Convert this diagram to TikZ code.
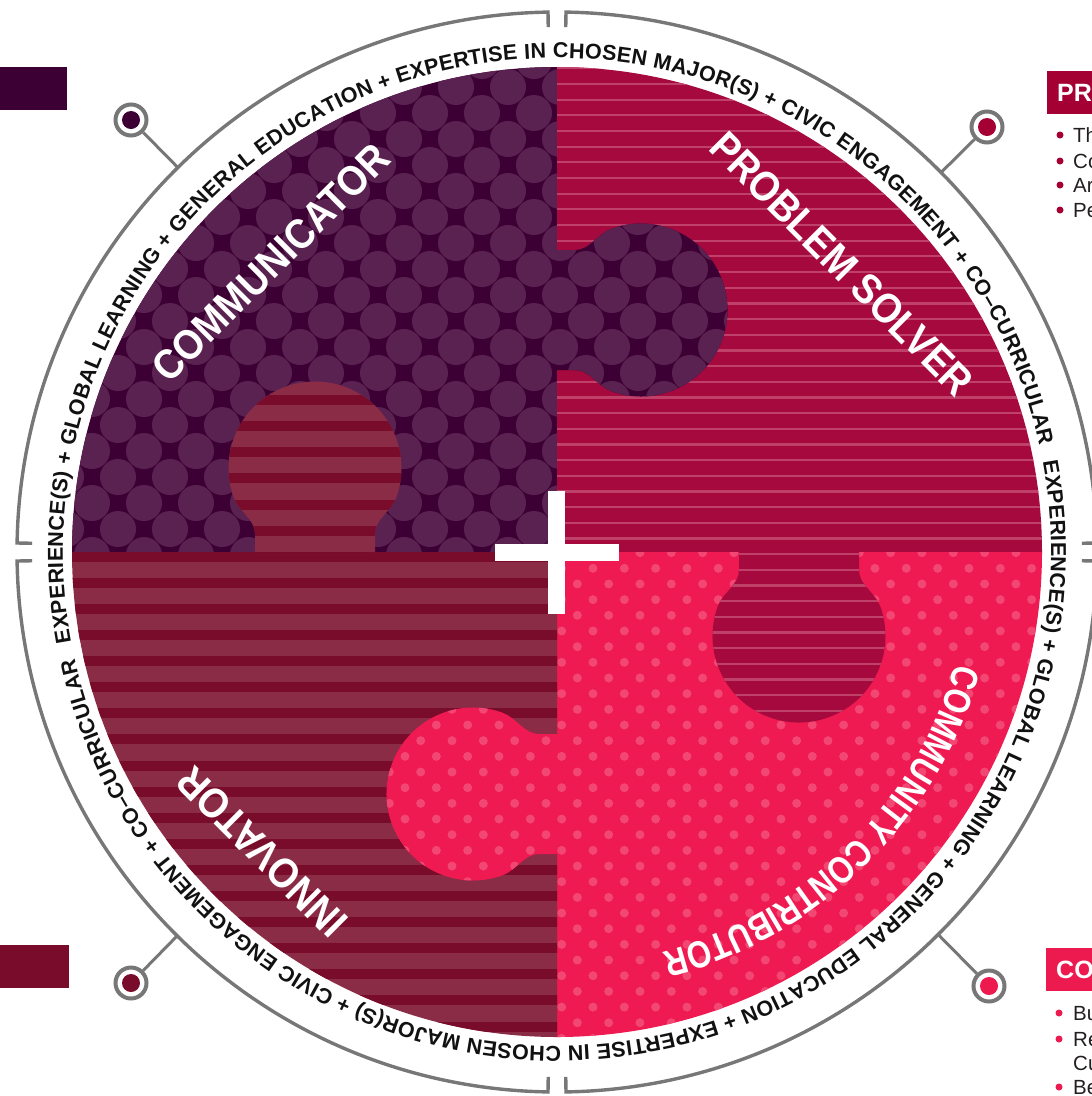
\documentclass[tikz,border=0pt]{standalone}
\usepackage{fontspec}
\setmainfont{Liberation Sans}
\newfontfamily\narrowfam[FakeStretch=0.9]{Liberation Sans}
\newfontfamily\narrowerfam[FakeStretch=0.82]{Liberation Sans}
\usetikzlibrary{decorations.text}
\definecolor{cTLbg}{HTML}{3D0034}
\definecolor{cTLfg}{HTML}{5A2251}
\definecolor{cTRbg}{HTML}{A6093D}
\definecolor{cTRfg}{HTML}{BF4068}
\definecolor{cBLbg}{HTML}{8B2C47}
\definecolor{cBLfg}{HTML}{780C2A}
\definecolor{cBRbg}{HTML}{EE1A51}
\definecolor{cBRfg}{HTML}{F24772}
\definecolor{cPRO}{HTML}{A50034}
\definecolor{cCO}{HTML}{ED1A50}
\definecolor{ringgray}{HTML}{777777}
\definecolor{ringtext}{HTML}{111111}
\definecolor{bodytext}{HTML}{231F20}
\newcommand\ringfont{\fontsize{21.5}{23}\selectfont\bfseries}
\newcommand\labelfont{\narrowfam\fontsize{42}{44}\selectfont\bfseries}
\newcommand\arcfont{\narrowerfam\fontsize{38}{40}\selectfont\bfseries}
\newcommand\tabshape{(182,-2) -- (182,18) .. controls (182,33) and (165.85,40.32) .. (160.72,54.42) arc[start angle=200, end angle=-20, radius=86.5] .. controls (318.15,40.32) and (302,33) .. (302,18) -- (302,-2) -- cycle}
\newcommand\patTL{%
  \fill[cTLbg] (40,-40) rectangle (760,-580);
  \foreach \j in {-17,...,4}{%
    \pgfmathtruncatemacro\rowpar{mod(\j+100,2)}%
    \foreach \k in {-9,...,5}{%
      \fill[cTLfg] ({482+26*\rowpar+52*\k},{-477-26*\j}) circle[radius=18];}}}
\newcommand\patTR{%
  \fill[cTRbg] (520,-40) rectangle (1060,-740);
  \foreach \k in {-26,...,17}{%
    \fill[cTRfg] (520,{-459-15.67*\k}) rectangle (1060,{-461.2-15.67*\k});}}
\newcommand\patBL{%
  \fill[cBLbg] (40,-360) rectangle (580,-1060);
  \foreach \k in {-7,...,19}{%
    \fill[cBLfg] (40,{-551.7-26.1*\k}) rectangle (580,{-561.7-26.1*\k});}}
\newcommand\patBR{%
  \fill[cBRbg] (360,-530) rectangle (1060,-1060);
  \foreach \j in {-2,...,31}{%
    \pgfmathtruncatemacro\rowpar{mod(\j+100,2)}%
    \foreach \k in {-11,...,11}{%
      \fill[cBRfg] ({718.3+15.67*\rowpar+31.33*\k},{-568.3-15.67*\j}) circle[radius=4.5];}}}
\begin{document}
\begin{tikzpicture}[x=1pt,y=1pt,
  ringline/.style={draw=ringgray, line width=3.4pt},
  pinring/.style={circle, draw=ringgray, line width=4pt, fill=white, minimum size=31pt, inner sep=0pt},
  pindot/.style={circle, minimum size=18pt, inner sep=0pt},
  sidebox/.style={rectangle, minimum height=43pt, inner sep=0pt, anchor=north west},
  bigword/.style={text=white, font=\labelfont, inner sep=0pt},
  bullettext/.style={anchor=base west, font=\fontsize{20.5}{22}\selectfont, text=bodytext, inner sep=0pt},
  bulletdot/.style={circle, minimum size=7pt, inner sep=0pt},
  headtext/.style={anchor=west, text=white, font=\fontsize{25}{27}\selectfont\bfseries, inner sep=0pt}]
\useasboundingbox (0,0) rectangle (1092,-1096);
\coordinate (C) at (557,-552);
% quarters
\begin{scope}\clip (557,-552) -- (72,-552) arc[start angle=180,end angle=90,radius=485] -- cycle; \patTL \end{scope}
\begin{scope}\clip (557,-552) -- (557,-67) arc[start angle=90,end angle=0,radius=485] -- cycle; \patTR \end{scope}
\begin{scope}\clip (557,-552) -- (1042,-552) arc[start angle=0,end angle=-90,radius=485] -- cycle; \patBR \end{scope}
\begin{scope}\clip (557,-552) -- (557,-1037) arc[start angle=270,end angle=180,radius=485] -- cycle; \patBL \end{scope}
% tabs
\begin{scope}\clip[cm={0,1,1,0,(557,-552)}] \tabshape; \patTL \end{scope}
\begin{scope}\clip[cm={1,0,0,-1,(557,-552)}] \tabshape; \patTR \end{scope}
\begin{scope}\clip[cm={0,-1,-1,0,(557,-552)}] \tabshape; \patBR \end{scope}
\begin{scope}\clip[cm={-1,0,0,1,(557,-552)}] \tabshape; \patBL \end{scope}
% plus
\fill[white] (548,-491) rectangle (565,-614);
\fill[white] (495,-544) rectangle (619,-561);
% labels
\node[bigword, rotate=45] (lblComm) at (271,-263) {COMMUNICATOR};
\node[bigword, rotate=-45] (lblProb) at (842,-264) {PROBLEM SOLVER};
\node[bigword, rotate=135] (lblInno) at (262,-852) {INNOVATOR};
\path[decorate, decoration={text along path, text align=center, text color=white,
  text={|\arcfont|COMMUNITY CONTRIBUTOR}}]
  ([shift={(5:414)}]C) arc[start angle=5, end angle=-96, radius=414];
% ring
\draw[ringline] ([shift={(89.045:525)}]C) -- ([shift={(89.045:540)}]C) arc[start angle=89.045, end angle=0.955, radius=540] -- ([shift={(0.955:525)}]C);
\draw[ringline] ([shift={(-0.955:525)}]C) -- ([shift={(-0.955:540)}]C) arc[start angle=-0.955, end angle=-89.045, radius=540] -- ([shift={(-89.045:525)}]C);
\draw[ringline] ([shift={(-90.955:525)}]C) -- ([shift={(-90.955:540)}]C) arc[start angle=-90.955, end angle=-179.045, radius=540] -- ([shift={(-179.045:525)}]C);
\draw[ringline] ([shift={(179.045:525)}]C) -- ([shift={(179.045:540)}]C) arc[start angle=179.045, end angle=90.955, radius=540] -- ([shift={(90.955:525)}]C);
% ring text
\path[decorate, decoration={text along path, text align={fit to path}, text color=ringtext,
  text={|\ringfont|EXPERIENCE(S) + GLOBAL LEARNING + GENERAL EDUCATION + EXPERTISE IN CHOSEN MAJOR(S) + CIVIC ENGAGEMENT + CO–CURRICULAR}}]
  ([shift={(190.5:494)}]C) arc[start angle=190.5, end angle=12.5, radius=494];
\path[decorate, decoration={text along path, text align={fit to path}, text color=ringtext,
  text={|\ringfont|EXPERIENCE(S) + GLOBAL LEARNING + GENERAL EDUCATION + EXPERTISE IN CHOSEN MAJOR(S) + CIVIC ENGAGEMENT + CO–CURRICULAR}}]
  ([shift={(10.5:494)}]C) arc[start angle=10.5, end angle=-167.5, radius=494];
% pins
\coordinate (rTL) at ([shift={(134.6:540)}]C);
\coordinate (rTR) at ([shift={(44.66:540)}]C);
\coordinate (rBL) at ([shift={(225.3:540)}]C);
\coordinate (rBR) at ([shift={(314.9:540)}]C);
\node[pinring] (pTL) at (131,-120) {};
\node[pinring] (pTR) at (987,-127) {};
\node[pinring] (pBL) at (131,-983) {};
\node[pinring] (pBR) at (989,-986) {};
\draw[ringline, line width=3pt] (pTL) -- (rTL);
\draw[ringline, line width=3pt] (pTR) -- (rTR);
\draw[ringline, line width=3pt] (pBL) -- (rBL);
\draw[ringline, line width=3pt] (pBR) -- (rBR);
\node[pindot, fill=cTLbg] (dTL) at (pTL.center) {};
\node[pindot, fill=cPRO] (dTR) at (pTR.center) {};
\node[pindot, fill=cBLfg] (dBL) at (pBL.center) {};
\node[pindot, fill=cCO] (dBR) at (pBR.center) {};
% side boxes
\node[sidebox, fill=cTLbg, minimum width=67pt] (boxTL) at (0,-67) {};
\node[sidebox, fill=cBLfg, minimum width=69pt] (boxBL) at (0,-945) {};
\node[sidebox, fill=cPRO, minimum width=60pt] (boxPRO) at (1047,-71) {};
\node[headtext] (hPRO) at (1057,-92.5) {PRO};
\node[sidebox, fill=cCO, minimum width=60pt] (boxCO) at (1046,-948) {};
\node[headtext] (hCO) at (1056,-969.5) {CO};
% bullets
\foreach \t/\yy [count=\n] in {Th/135, Co/161, Ar/185, Pe/210}{
  \node[bulletdot, fill=cPRO] (bp\n) at (1060,-\yy) {};
  \node[bullettext] (tp\n) at (1073,{-\yy-7.5}) {\t};}
\foreach \t/\yy [count=\n] in {Bu/1013, Re/1039, Be/1087}{
  \node[bulletdot, fill=cCO] (bc\n) at (1059,-\yy) {};}
\node[bullettext] (tc1) at (1073,-1020.5) {Bu};
\node[bullettext] (tc2) at (1073,-1046.5) {Re};
\node[bullettext] (tc3) at (1073,-1070.5) {Cu};
\node[bullettext] (tc4) at (1073,-1094.5) {Be};
\end{tikzpicture}
\end{document}
